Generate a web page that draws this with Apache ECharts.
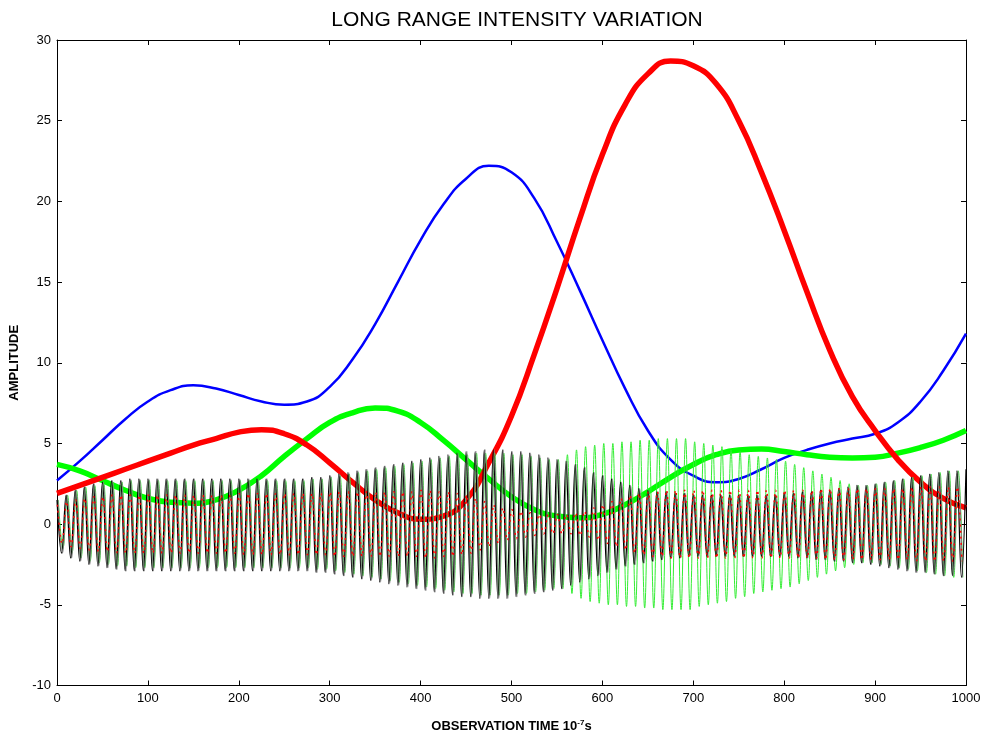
<!DOCTYPE html>
<html>
<head>
<meta charset="utf-8">
<script src="https://cdn.jsdelivr.net/npm/echarts@6/dist/echarts.min.js"></script>
<style>
html,body{margin:0;padding:0;background:#fff;}
#chart{width:985px;height:738px;}
</style>
</head>
<body>
<div id="chart"></div>
<script>
// ---- data ----
const smoothX = [0,25,50,75,100,125,150,175,200,225,250,275,300,325,350,375,400,425,450,475,500,525,550,575,600,625,650,675,700,725,750,775,800,825,850,875,900,925,950,975,1000];
const blueCurve = [2.7,3.9,5.2,6.5,7.6,8.3,8.6,8.4,8.0,7.6,7.4,7.6,8.5,10.2,12.4,15.0,17.6,19.8,21.4,22.2,21.8,20.2,17.5,14.5,11.4,8.4,5.8,4.0,3.0,2.6,2.8,3.4,4.1,4.6,5.0,5.3,5.6,6.3,7.6,9.5,11.8];
const redCurve = [1.9,2.4,2.9,3.4,3.9,4.4,4.9,5.3,5.7,5.85,5.6,4.9,3.8,2.6,1.5,0.7,0.3,0.5,1.5,3.8,6.7,10.5,14.6,18.9,22.9,26.0,27.9,28.7,28.4,27.3,25.0,21.8,18.2,14.4,10.8,7.9,5.8,4.0,2.6,1.6,1.0];
const greenCurve = [3.7,3.3,2.7,2.1,1.6,1.35,1.3,1.5,2.1,3.0,4.2,5.3,6.3,6.9,7.2,7.0,6.3,5.2,4.0,2.8,1.7,0.9,0.5,0.4,0.6,1.2,2.0,2.9,3.7,4.3,4.6,4.65,4.5,4.3,4.15,4.1,4.15,4.4,4.75,5.2,5.8];

// oscillation: one peak every 10 time units (x = 0,10,...,1000), troughs in between
const oscPeriod = 10;
const blackPeaks = [
 1.5,1.8,2.1,2.3,2.5,2.6,2.7,2.7,2.8,2.8,
 2.8,2.8,2.8,2.8,2.8,2.8,2.8,2.8,2.8,2.8,
 2.8,2.8,2.8,2.8,2.8,2.8,2.8,2.8,2.9,2.9,
 3.0,3.1,3.2,3.3,3.4,3.5,3.6,3.7,3.8,3.9,
 4.0,4.1,4.2,4.3,4.4,4.5,4.5,4.6,4.6,4.6,
 4.5,4.5,4.4,4.3,4.1,4.0,3.9,3.7,3.5,3.2,
 3.0,2.8,2.6,2.4,2.2,2.1,2.0,2.0,1.9,1.9,
 1.8,1.8,1.8,1.8,1.8,1.8,1.8,1.8,1.8,1.8,
 1.9,1.9,2.0,2.0,2.1,2.1,2.2,2.3,2.4,2.4,
 2.5,2.6,2.7,2.8,2.9,3.0,3.1,3.2,3.3,3.3,
 3.4];
const blackTroughs = [
 -1.8,-2.1,-2.3,-2.5,-2.6,-2.7,-2.8,-2.9,-2.9,-2.9,
 -2.9,-2.9,-2.9,-2.9,-2.9,-2.9,-2.9,-2.9,-2.9,-2.9,
 -2.9,-2.9,-2.9,-2.9,-2.9,-2.9,-2.9,-2.9,-3.0,-3.0,
 -3.1,-3.2,-3.3,-3.4,-3.5,-3.6,-3.7,-3.8,-3.9,-4.0,
 -4.1,-4.2,-4.3,-4.4,-4.5,-4.5,-4.6,-4.6,-4.6,-4.6,
 -4.5,-4.4,-4.3,-4.2,-4.1,-4.0,-3.8,-3.6,-3.4,-3.2,
 -3.0,-2.8,-2.6,-2.5,-2.4,-2.3,-2.2,-2.1,-2.1,-2.0,
 -2.0,-2.0,-2.0,-2.0,-2.0,-2.0,-2.0,-2.0,-2.0,-2.0,
 -2.0,-2.1,-2.1,-2.2,-2.2,-2.3,-2.3,-2.4,-2.4,-2.5,
 -2.6,-2.7,-2.8,-2.9,-3.0,-3.0,-3.1,-3.2,-3.2,-3.3];
const greenOscAmp = [
 1.5,1.8,2.1,2.3,2.4,2.5,2.6,2.6,2.7,2.7,
 2.7,2.7,2.7,2.7,2.7,2.7,2.7,2.7,2.7,2.7,
 2.7,2.7,2.7,2.7,2.7,2.7,2.7,2.7,2.8,2.8,
 2.9,3.0,3.1,3.2,3.3,3.4,3.5,3.6,3.7,3.8,
 3.9,4.0,4.1,4.2,4.3,4.3,4.4,4.4,4.4,4.4,
 4.3,4.3,4.2,4.1,4.0,4.0,4.3,4.6,4.8,4.9,
 5.0,5.0,5.1,5.1,5.2,5.2,5.3,5.3,5.3,5.3,
 5.1,5.0,4.9,4.8,4.6,4.5,4.3,4.2,4.1,4.0,
 3.9,3.7,3.5,3.3,3.1,2.9,2.7,2.5,2.4,2.4,
 2.5,2.6,2.7,2.8,2.9,3.0,3.1,3.2,3.3,3.3,
 3.4];
const redOscAmp = [
 1.2,1.4,1.5,1.6,1.7,1.7,1.8,1.8,1.8,1.8,
 1.8,1.8,1.8,1.8,1.8,1.8,1.8,1.8,1.8,1.8,
 1.9,1.9,1.9,1.9,1.9,1.9,1.9,1.9,1.9,1.9,
 2.0,2.0,2.0,2.0,2.0,2.0,2.0,2.0,2.0,2.0,
 2.1,2.1,2.0,2.0,1.9,1.8,1.6,1.4,1.2,1.0,
 0.9,0.8,0.7,0.6,0.6,0.6,0.6,0.7,0.8,1.0,
 1.2,1.4,1.6,1.8,1.9,2.0,2.0,2.1,2.1,2.1,
 2.1,2.1,2.1,2.1,2.1,2.1,2.1,2.1,2.1,2.1,
 2.1,2.1,2.1,2.1,2.2,2.2,2.2,2.2,2.2,2.2,
 2.2,2.2,2.2,2.2,2.3,2.3,2.3,2.3,2.3,2.3,
 2.3];

const titleText = 'LONG RANGE INTENSITY VARIATION';
const yName = 'AMPLITUDE';

// ---- build series data ----
function pairs(xs, ys){ return xs.map((x,i)=>[x, ys[i]]); }
function osc(peaks, troughs, shift){
  const out = [];
  for (let k=0;k<peaks.length;k++){
    out.push([k*oscPeriod + shift, peaks[k]]);
    if (k < troughs.length) out.push([k*oscPeriod + oscPeriod/2 + shift, troughs[k]]);
  }
  return out.filter(p => p[0] <= 1000);
}
const greenOscTroughs = greenOscAmp.slice(0,100).map(v=>-v);
const redOscTroughs = redOscAmp.slice(0,100).map(v=>-v);

const chart = echarts.init(document.getElementById('chart'), null, {renderer:'canvas'});
const FONT = 'Liberation Sans, Arial, sans-serif';
const tickCommon = {inside:true, length:5, lineStyle:{color:'#000', width:1}};
const labelFont = {color:'#000', fontSize:13, fontFamily:FONT};
chart.setOption({
  animation:false,
  backgroundColor:'#fff',
  title:{text:titleText, left:512, textAlign:'center', top:5,
    textStyle:{fontSize:21, fontWeight:'normal', color:'#000', fontFamily:FONT}},
  grid:{left:57, right:19, top:40, bottom:50, containLabel:false},
  xAxis:[{
    type:'value', min:0, max:1000, interval:100,
    axisLine:{show:true, onZero:false, lineStyle:{color:'#000', width:1}},
    axisTick:tickCommon,
    axisLabel:Object.assign({margin:6, formatter:(v)=>String(v)}, labelFont),
    splitLine:{show:false},
    name:'OBSERVATION TIME 10{sup|-7}s', nameLocation:'middle', nameGap:33,
    nameTextStyle:{color:'#000', fontSize:13, fontWeight:'bold', fontFamily:FONT,
      rich:{sup:{fontSize:8, fontWeight:'bold', color:'#000', verticalAlign:'top', padding:[0,0,8,0], fontFamily:FONT}}}
  },{
    type:'value', min:0, max:1000, interval:100, position:'top',
    axisLine:{show:true, onZero:false, lineStyle:{color:'#000', width:1}},
    axisTick:tickCommon, axisLabel:{show:false}, splitLine:{show:false}
  }],
  yAxis:[{
    type:'value', min:-10, max:30, interval:5,
    axisLine:{show:true, onZero:false, lineStyle:{color:'#000', width:1}},
    axisTick:tickCommon,
    axisLabel:Object.assign({margin:6}, labelFont),
    splitLine:{show:false},
    name:yName, nameLocation:'middle', nameGap:30, nameRotate:90,
    nameTextStyle:{color:'#000', fontSize:13, fontWeight:'bold', fontFamily:FONT}
  },{
    type:'value', min:-10, max:30, interval:5, position:'right',
    axisLine:{show:true, onZero:false, lineStyle:{color:'#000', width:1}},
    axisTick:tickCommon, axisLabel:{show:false}, splitLine:{show:false}
  }],
  series:[
    {type:'line', name:'blue', data:pairs(smoothX, blueCurve), smooth:true, showSymbol:false,
      lineStyle:{color:'#0000ff', width:2.5}, z:2},
    {type:'line', name:'green', data:pairs(smoothX, greenCurve), smooth:true, showSymbol:false,
      lineStyle:{color:'#00ff00', width:5.5}, z:2},
    {type:'line', name:'red', data:pairs(smoothX, redCurve), smooth:true, showSymbol:false,
      lineStyle:{color:'#ff0000', width:5.5}, z:2},
    {type:'line', name:'greenOsc', data:osc(greenOscAmp, greenOscTroughs, 1.5), smooth:0.4, showSymbol:false,
      lineStyle:{color:'#33ee33', width:1}, z:3},
    {type:'line', name:'grayOsc', data:osc(blackPeaks, blackTroughs, 1.1), smooth:0.4, showSymbol:false,
      lineStyle:{color:'#808080', width:1.2}, z:3},
    {type:'line', name:'blackOsc', data:osc(blackPeaks, blackTroughs, 0), smooth:0.4, showSymbol:false,
      lineStyle:{color:'#000', width:1.2}, z:4},
    {type:'line', name:'redOsc', data:osc(redOscAmp, redOscTroughs, 0.5), smooth:0.4, showSymbol:false,
      lineStyle:{color:'#ff0000', width:1.5, type:[2,4]}, z:5}
  ]
});
</script>
</body>
</html>
